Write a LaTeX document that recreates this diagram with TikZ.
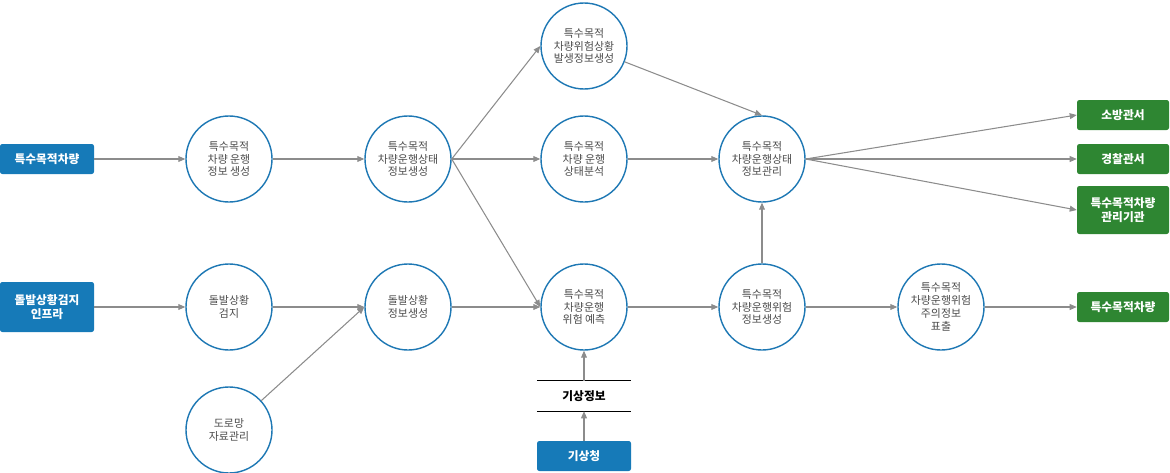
\documentclass[tikz,border=0pt]{standalone}
\usepackage{fontspec}
\setmainfont{Noto Sans CJK KR}
\usepackage{xcolor}
\definecolor{boxblue}{RGB}{22, 122, 184}
\definecolor{boxgreen}{RGB}{46, 134, 50}
\definecolor{ringblue}{RGB}{30, 120, 180}
\definecolor{linegray}{RGB}{140, 140, 140}
\usetikzlibrary{positioning, arrows.meta}

\begin{document}
\begin{tikzpicture}[x=0.03cm, y=-0.03cm,
    stage/.style={circle, draw=ringblue, line width=1.2pt, fill=white, minimum size=2.58cm, inner sep=0pt, align=center, font=\fontsize{9.3}{11}\selectfont, text=black!70},
    srcbox/.style={rectangle, fill=boxblue, rounded corners=2pt, minimum width=2.82cm, minimum height=0.9cm, align=center, text=white, font=\fontsize{10}{12}\selectfont\bfseries},
    dstbox/.style={srcbox, fill=boxgreen, minimum width=2.76cm},
    arrow/.style={-{Triangle[length=6pt, width=5pt]}, linegray, line width=0.9pt}
]
    \useasboundingbox (0,0) rectangle (1170,472);

    % Sources
    \node[srcbox] (vehicle) at (47,159) {특수목적차량};
    \node[srcbox, minimum height=1.5cm] (infra) at (47,307) {돌발상황검지\\인프라};
    \node[srcbox] (kma) at (584,456) {기상청};

    % Processes
    \node[stage] (genInfo) at (229,159) {특수목적\\차량 운행\\정보 생성};
    \node[stage] (genState) at (408,159) {특수목적\\차량운행상태\\정보생성};
    \node[stage] (genDanger) at (584,46) {특수목적\\차량위험상황\\발생정보생성};
    \node[stage] (analyze) at (584,159) {특수목적\\차량 운행\\상태분석};
    \node[stage] (manage) at (762,159) {특수목적\\차량운행상태\\정보관리};
    \node[stage] (detect) at (229,307) {돌발상황\\검지};
    \node[stage] (genIncident) at (408,307) {돌발상황\\정보생성};
    \node[stage] (predict) at (584,307) {특수목적\\차량운행\\위험 예측};
    \node[stage] (genRisk) at (762,307) {특수목적\\차량운행위험\\정보생성};
    \node[stage] (display) at (941,307) {특수목적\\차량운행위험\\주의정보\\표출};
    \node[stage] (road) at (229,430) {도로망\\자료관리};

    % Weather data store
    \node[minimum width=2.82cm, minimum height=0.9cm, font=\fontsize{10}{12}\selectfont\bfseries] (weather) at (584,396) {기상정보};
    \draw[black, line width=1.2pt] (weather.north west) -- (weather.north east);
    \draw[black, line width=1.2pt] (weather.south west) -- (weather.south east);

    % Destinations
    \node[dstbox] (fire) at (1123,115) {소방관서};
    \node[dstbox] (police) at (1123,159) {경찰관서};
    \node[dstbox, minimum height=1.44cm] (agency) at (1123,210) {특수목적차량\\관리기관};
    \node[dstbox] (driver) at (1123,307) {특수목적차량};

    % Flows
    \draw[arrow] (vehicle) -- (genInfo);
    \draw[arrow] (genInfo) -- (genState);
    \draw[arrow] (genState.east) -- (genDanger.west);
    \draw[arrow] (genState) -- (analyze);
    \draw[arrow] (genState.east) -- (predict.west);
    \draw[arrow] (genDanger) -- (manage.north);
    \draw[arrow] (analyze) -- (manage);
    \draw[arrow] (manage.east) -- (fire.west);
    \draw[arrow] (manage) -- (police);
    \draw[arrow] (manage.east) -- (agency.west);
    \draw[arrow] (infra) -- (detect);
    \draw[arrow] (detect) -- (genIncident);
    \draw[arrow] (road) -- (genIncident.west);
    \draw[arrow] (genIncident) -- (predict);
    \draw[arrow] (predict) -- (genRisk);
    \draw[arrow] (genRisk) -- (manage);
    \draw[arrow] (genRisk) -- (display);
    \draw[arrow] (display) -- (driver);
    \draw[arrow] (kma) -- (weather.south);
    \draw[arrow] (weather.north) -- (predict);
\end{tikzpicture}
\end{document}
